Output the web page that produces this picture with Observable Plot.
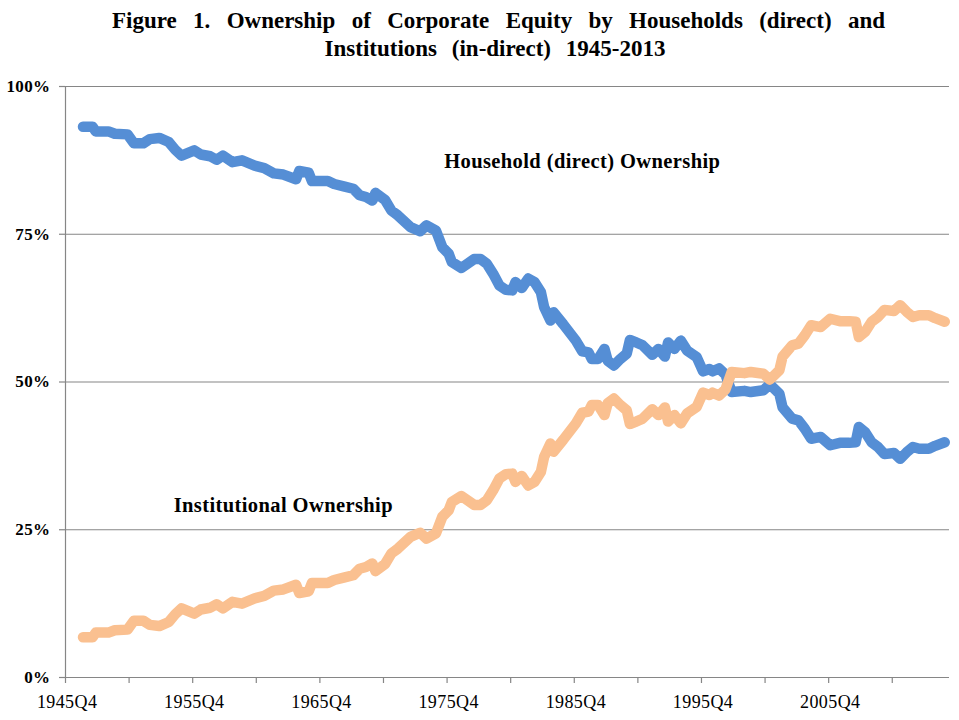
<!DOCTYPE html>
<html>
<head>
<meta charset="utf-8">
<script src="https://cdn.jsdelivr.net/npm/d3@7"></script>
<script src="https://cdn.jsdelivr.net/npm/@observablehq/plot@0.6"></script>
<style>
  html, body { margin: 0; padding: 0; background: #fff; }
  #wrap { position: relative; width: 959px; height: 720px; font-family: "Liberation Serif", "Times New Roman", serif; }
  .t1 { position: absolute; left: 112px; top: 8px; width: 773px; font-weight: bold; font-size: 23px; line-height: 26px; text-align: justify; text-align-last: justify; white-space: nowrap; }
  .t2 { position: absolute; left: 0; top: 36px; width: 990px; font-weight: bold; font-size: 23px; line-height: 26px; text-align: center; word-spacing: 9px; }
  #chart { position: absolute; left: 0; top: 70px; }
  #chart svg text { letter-spacing: 0.4px; }
</style>
</head>
<body>
<div id="wrap">
  <div class="t1">Figure 1. Ownership of Corporate Equity by Households (direct) and</div>
  <div class="t2">Institutions (in-direct) 1945-2013</div>
  <div id="chart"></div>
</div>
<script>
// Quarter labels of the plotted vertices
const quarters = ["1947Q1","1947Q4","1948Q1","1949Q1","1949Q3","1950Q3","1951Q1","1951Q4","1952Q2","1953Q1","1953Q4","1954Q2","1954Q4","1955Q4","1956Q2","1957Q1","1957Q3","1958Q1","1958Q4","1959Q3","1960Q3","1961Q2","1962Q1","1962Q4","1963Q4","1964Q1","1964Q4","1965Q1","1966Q2","1966Q4","1967Q3","1968Q2","1968Q4","1969Q2","1969Q4","1970Q1","1970Q4","1971Q2","1971Q4","1972Q4","1973Q3","1974Q1","1974Q4","1975Q2","1975Q4","1976Q1","1976Q4","1977Q4","1978Q2","1978Q4","1979Q2","1979Q4","1980Q2","1980Q4","1981Q1","1981Q3","1982Q1","1982Q3","1983Q1","1983Q2","1983Q4","1984Q1","1984Q4","1985Q2","1985Q4","1986Q2","1986Q4","1987Q1","1987Q3","1988Q1","1988Q2","1988Q4","1989Q2","1989Q4","1990Q1","1990Q3","1991Q1","1991Q4","1992Q2","1992Q4","1993Q1","1993Q3","1994Q1","1994Q3","1995Q2","1995Q4","1996Q2","1996Q3","1997Q1","1997Q3","1998Q1","1999Q1","1999Q3","2000Q3","2001Q1","2001Q4","2002Q1","2002Q4","2003Q2","2003Q4","2004Q2","2005Q1","2005Q4","2006Q3","2007Q2","2007Q4","2008Q1","2008Q3","2009Q1","2009Q3","2010Q1","2010Q4","2011Q2","2011Q4","2012Q2","2012Q4","2013Q3","2014Q1","2014Q4"];

// Household (direct) ownership, % of corporate equity
const household = [93.2,93.2,92.4,92.4,92.0,91.9,90.4,90.4,91.1,91.3,90.6,89.3,88.3,89.2,88.5,88.2,87.6,88.3,87.2,87.5,86.6,86.2,85.3,85.1,84.3,85.7,85.4,84.0,84.0,83.5,83.1,82.7,81.6,81.3,80.7,82.0,80.8,79.0,78.2,76.2,75.5,76.5,75.6,72.8,71.7,70.3,69.3,70.8,70.8,70.0,68.3,66.3,65.6,65.5,66.9,65.9,67.5,66.9,65.2,62.7,60.4,61.8,59.8,58.4,57.0,55.2,55.0,53.9,53.9,55.6,53.6,52.8,53.9,54.8,57.1,56.7,56.2,54.6,55.6,54.3,56.7,55.6,57.0,55.3,54.2,51.8,52.2,51.8,52.3,51.3,48.3,48.5,48.3,48.6,49.6,48.0,45.7,43.8,43.5,42.1,40.4,40.7,39.3,39.7,39.7,39.8,42.4,41.5,39.8,39.0,37.8,38.0,37.0,38.1,39.0,38.7,38.7,39.2,39.8];

// Institutional ownership, % of corporate equity
const institutional = [6.8,6.8,7.6,7.6,8.0,8.1,9.6,9.6,8.9,8.7,9.4,10.7,11.7,10.8,11.5,11.8,12.4,11.7,12.8,12.5,13.4,13.8,14.7,14.9,15.7,14.3,14.6,16.0,16.0,16.5,16.9,17.3,18.4,18.7,19.3,18.0,19.2,21.0,21.8,23.8,24.5,23.5,24.4,27.2,28.3,29.7,30.7,29.2,29.2,30.0,31.7,33.7,34.4,34.5,33.1,34.1,32.5,33.1,34.8,37.3,39.6,38.2,40.2,41.6,43.0,44.8,45.0,46.1,46.1,44.4,46.4,47.2,46.1,45.2,42.9,43.3,43.8,45.4,44.4,45.7,43.3,44.4,43.0,44.7,45.8,48.2,47.8,48.2,47.7,48.7,51.7,51.5,51.7,51.4,50.4,52.0,54.3,56.2,56.5,57.9,59.6,59.3,60.7,60.3,60.3,60.2,57.6,58.5,60.2,61.0,62.2,62.0,63.0,61.9,61.0,61.3,61.3,60.8,60.2];

const firstQuarter = "1945Q4";
const lastQuarter = "2015Q1";
const xTickLabels = ["1945Q4","1955Q4","1965Q4","1975Q4","1985Q4","1995Q4","2005Q4"];
const yTicks = [0, 25, 50, 75, 100];
const seriesLabels = ["Household (direct) Ownership", "Institutional Ownership"];
const labelAnchors = [["1986Q2", 87.3], ["1962Q4", 29.1]];

const qNum = s => (+s.slice(0, 4)) * 4 + (+s.slice(5)) - 1;
const qIndex = s => qNum(s) - qNum(firstQuarter);
const nCat = qIndex(lastQuarter) + 1;

const hh = quarters.map((q, k) => ({x: qIndex(q), y: household[k]}));
const inst = quarters.map((q, k) => ({x: qIndex(q), y: institutional[k]}));
const labelPos = xTickLabels.map(qIndex);
const tickPos = d3.range(0, nCat, 20).map(d => d - 0.5);
const annos = seriesLabels.map((t, k) => ({t, x: qIndex(labelAnchors[k][0]), y: labelAnchors[k][1]}));

const grey = "#868686";
const chart = Plot.plot({
  width: 959,
  height: 650,
  marginTop: 16,
  marginBottom: 43,
  marginLeft: 65,
  marginRight: 10,
  style: {fontFamily: "'Liberation Serif', serif", fontSize: "17px", color: "#000", background: "#fff"},
  x: {domain: [-0.5, nCat - 0.5], axis: null},
  y: {domain: [0, 100], axis: null},
  marks: [
    Plot.ruleY(yTicks.filter(d => d > 0), {stroke: grey, strokeWidth: 1.2}),
    Plot.ruleY([0], {stroke: grey, strokeWidth: 1.2}),
    Plot.ruleX([-0.5], {stroke: grey, strokeWidth: 1.2}),
    Plot.axisX({ticks: tickPos, tickSize: 6, stroke: grey, strokeWidth: 1.2, tickFormat: () => "", label: null}),
    Plot.axisX({ticks: labelPos, tickSize: 0, tickPadding: 18, tickFormat: d => xTickLabels[labelPos.indexOf(d)], label: null, fontSize: 18}),
    Plot.axisY({ticks: yTicks, tickSize: 6, tickPadding: 9, stroke: grey, strokeWidth: 1.2, tickFormat: d => d + "%", label: null, fontWeight: "bold", fontSize: 17}),
    Plot.line(hh, {x: "x", y: "y", stroke: "#558ED5", strokeWidth: 10.5, strokeLinecap: "round", strokeLinejoin: "round"}),
    Plot.line(inst, {x: "x", y: "y", stroke: "#FAC090", strokeWidth: 10.5, strokeLinecap: "round", strokeLinejoin: "round"}),
    Plot.text(annos, {x: "x", y: "y", text: "t", fontWeight: "bold", fontSize: 20.5, fill: "#000"})
  ]
});
document.getElementById("chart").appendChild(chart);
</script>
</body>
</html>
